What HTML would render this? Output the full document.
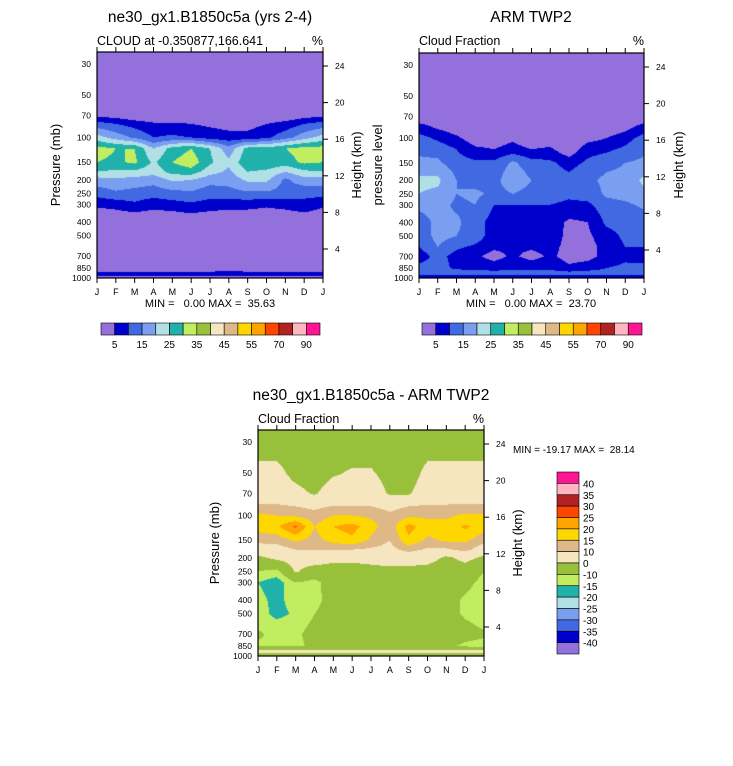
<!DOCTYPE html>
<html><head><meta charset="utf-8">
<style>
body{margin:0;background:#fff;width:733px;height:766px;position:relative;overflow:hidden;font-family:"Liberation Sans",sans-serif}
</style></head>
<body>
<svg id="svg" width="733" height="766" style="position:absolute;left:0;top:0"></svg>
<script>
const months=["J","F","M","A","M","J","J","A","S","O","N","D","J"];
const pressureTicks=[30,50,70,100,150,200,250,300,400,500,700,850,1000];
const heightTicks=[24,20,16,12,8,4];
const absLevels=[5,10,15,20,25,30,35,40,45,50,55,60,70,80,90];
const absLabels=["5","15","25","35","45","55","70","90"];
const diffLevels=[-40,-35,-30,-25,-20,-15,-10,0,10,15,20,25,30,35,40];
const palette=["#9370DB","#0000CD","#4169E1","#7B9FF0","#B0E0E6","#20B2AA","#C0EE60","#99C03A","#F5E6C0","#DEB887","#FFD700","#FFA500","#FF4500","#B22222","#FFB6C1","#FF1493"];
const levelsP=[30,50,70,80,100,120,150,175,200,250,300,400,500,600,700,850,925,1000];
const modelData=[
[0,0,0,0,0,0,0,0,0,0,0,0,0],
[0,0,0,0,0,0,0,0,0,0,0,0,0],
[4,3,1,0,0,0,0,0,0,0,1,3,4],
[12,10,8,6,6,5,4,3,3,5,7,10,12],
[22,18,14,10,11,10,8,7,7,9,13,18,22],
[32,30,30,20,27,30,25,17,27,27,30,32,32],
[30,29,31,24,30,33,26,21,29,29,28,31,30],
[25,24,24,22,27,28,22,19,25,24,20,24,25],
[18,19,18,17,21,20,17,17,21,21,14,18,18],
[12,14,13,12,13,14,12,13,14,14,13,11,12],
[6,7,9,7,8,9,8,7,7,6,7,9,6],
[0,0,0,0,0,1,0,0,0,0,0,0,0],
[0,0,0,0,0,0,0,0,0,0,0,0,0],
[0,0,0,0,0,0,0,0,0,0,0,0,0],
[0,0,0,0,0,0,0,0,0,0,0,0,0],
[0,0,0,0,0,0,0,0,0,0,0,0,0],
[7,7,7,7,7,7,7,9,7,7,7,7,7],
[3,3,3,3,3,3,3,3,3,3,3,3,3]];
const obsData=[
[0,0,0,0,0,0,0,0,0,0,0,0,0],
[0,0,0,0,0,0,0,0,0,0,0,0,0],
[0,0,0,0,0,0,0,0,0,0,0,0,0],
[6,3,1,0,0,0,0,0,0,0,0,2,6],
[12,9,6,2,2,4,1,1,0,3,5,8,12],
[14,13,10,6,5,7,5,6,1,8,9,11,14],
[16,16,12,11,11,16,12,11,8,11,13,15,16],
[19,19,14,12,13,17,14,12,10,13,15,16,19],
[21,21,15,13,14,17,15,12,11,14,16,17,21],
[20,19,15,16,14,15,14,12,11,12,16,17,19],
[16,17,14,15,10,10,10,10,9,9,13,14,16],
[13,16,16,12,8,7,7,8,4,5,11,12,12],
[11,17,15,13,7,7,6,9,3,4,8,11,11],
[10,15,11,9,6,6,6,7,3,3,7,10,10],
[7,12,8,6,3,6,3,6,3,3,7,9,7],
[12,12,9,9,8,9,9,9,6,8,10,11,12],
[13,13,13,12,12,12,12,12,12,12,12,13,13],
[5,5,5,5,5,5,5,5,5,5,5,5,5]];
const diffData=[
[-5,-5,-5,-5,-5,-5,-5,-5,-5,-5,-5,-5,-5],
[3,3,-3,-5,-1,1,1,-3,-5,3,3,3,3],
[6,6,3,-1,5,5,5,-1,-1,6,6,6,6],
[9,9,8,7,8,8,8,7,8,9,9,9,9],
[16,15,14,12,15,15,14,11,14,14,14,16,16],
[17,19,26,15,20,22,17,12,22,17,17,21,17],
[12,12,16,13,17,19,14,10,19,14,16,16,12],
[6,7,10,10,10,10,9,8,12,9,9,12,6],
[-2,2,4,6,3,3,3,5,5,5,-2,3,-2],
[-10,-12,1,-5,-5,-5,-3,-3,-3,-5,-8,-5,-10],
[-15,-18,-10,-12,-6,-5,-5,-5,-5,-5,-8,-8,-12],
[-13,-17,-12,-12,-7,-5,-5,-5,-5,-5,-7,-11,-13],
[-12,-17,-14,-10,-7,-5,-5,-5,-5,-5,-7,-11,-12],
[-11,-13,-12,-9,-6,-5,-5,-5,-5,-5,-6,-9,-11],
[-9,-12,-11,-8,-6,-5,-5,-5,-5,-5,-6,-8,-9],
[-11,-11,-11,-9,-9,-9,-9,-9,-9,-9,-9,-11,-12],
[3,3,3,3,3,3,3,3,3,3,3,3,3],
[-5,-5,-5,-5,-5,-5,-5,-5,-5,-5,-5,-5,-5]];

const NS="http://www.w3.org/2000/svg";
const svg=document.getElementById('svg');
function el(tag,attrs,txt){const e=document.createElementNS(NS,tag);for(const k in attrs)e.setAttribute(k,attrs[k]);if(txt!==undefined)e.textContent=txt;svg.appendChild(e);return e;}
function colorFor(v,levels){let i=0;while(i<levels.length&&v>=levels[i])i++;return palette[i];}
function sample(data,m,lp){
  const lps=levelsP.map(p=>Math.log10(p));
  let r=0;while(r<lps.length-2&&lp>lps[r+1])r++;
  let t=(lp-lps[r])/(lps[r+1]-lps[r]);t=Math.max(0,Math.min(1,t));
  let c=Math.min(11,Math.floor(m));let u=m-c;
  const a=data[r][c]*(1-u)+data[r][c+1]*u, b=data[r+1][c]*(1-u)+data[r+1][c+1]*u;
  return a*(1-t)+b*t;
}
function drawPanel(o){
  const {x0,y0,w,h,data,levels,name}=o;
  const yScale=p=>y0+12+(Math.log10(p)-Math.log10(30))*(h-12)/(3-Math.log10(30));
  const inv=y=>Math.log10(30)+(y-y0-12)*(3-Math.log10(30))/(h-12);
  const xScale=m=>x0+m*w/12;
  const fo=document.createElementNS(NS,'foreignObject');
  fo.setAttribute('x',x0);fo.setAttribute('y',y0);fo.setAttribute('width',w);fo.setAttribute('height',h);
  const cv=document.createElement('canvas');cv.width=w;cv.height=h;
  
  
  const ctx=cv.getContext('2d');
  for(let py=0;py<h;py++){const lp=Math.min(3,inv(y0+py+0.5));
    let prev=null,sx=0;
    for(let px=0;px<=w;px++){
      let col=null;
      if(px<w){const m=(px+0.5)/w*12;col=colorFor(sample(data,m,lp),levels);}
      if(col!==prev){if(prev){ctx.fillStyle=prev;ctx.fillRect(sx,py,px-sx,1);}prev=col;sx=px;}
    }}
  fo.appendChild(cv);svg.appendChild(fo);
  const fr=el('rect',{x:x0,y:y0,width:w,height:h,fill:'none',stroke:'#000','stroke-width':1.2});
  
  months.forEach((mn,i)=>{const x=xScale(i);
    el('line',{x1:x,x2:x,y1:y0,y2:y0-5,stroke:'#000'});
    el('line',{x1:x,x2:x,y1:y0+h,y2:y0+h+5,stroke:'#000'});
    const t=el('text',{x:x,y:y0+h+17,'font-size':9,'text-anchor':'middle'},mn);
    });
  pressureTicks.forEach(p=>{const t=el('text',{x:x0-6,y:yScale(p)+3,'font-size':8.5,'text-anchor':'end'},p);
    });
  heightTicks.forEach(k=>{const y=y0+14+(24-k)*9.15;
    el('line',{x1:x0+w,x2:x0+w+5,y1:y,y2:y,stroke:'#000'});
    const t=el('text',{x:x0+w+12,y:y+3,'font-size':8.5},k);
    });
}
function txt(x,y,s,size,name,anchor,rot){const a={x:x,y:y,'font-size':size,'text-anchor':anchor||'start'};if(rot)a.transform=`rotate(-90 ${x} ${y})`;const t=el('text',a,s);return t;}
function hbar(x0,y0,w,h,name){const bw=w/16;palette.forEach((c,i)=>{const r=el('rect',{x:x0+i*bw,y:y0,width:bw,height:h,fill:c,stroke:'#000','stroke-width':0.6});});
  absLabels.forEach((l,i)=>{txt(x0+bw*(1+2*i),y0+h+13,l,10,name+'-label','middle');});}

drawPanel({x0:97,y0:52,w:226,h:226,data:modelData,levels:absLevels,name:'model-panel'});
drawPanel({x0:419,y0:53,w:225,h:225,data:obsData,levels:absLevels,name:'obs-panel'});
drawPanel({x0:258,y0:430,w:226,h:226,data:diffData,levels:diffLevels,name:'diff-panel'});

txt(210,22,"ne30_gx1.B1850c5a (yrs 2-4)",15.5,'model-title','middle');
txt(97,45,"CLOUD at -0.350877,166.641",12.5,'model-subtitle');
txt(323,45,"%",12.5,'model-units','end');
txt(210,307,"MIN =   0.00 MAX =  35.63",11,'model-minmax','middle');
txt(60,165,"Pressure (mb)",13,'model-y-title','middle',true);
txt(361,165,"Height (km)",13,'model-right-title','middle',true);
hbar(101,323,219,12,'model-colorbar');

txt(531,22,"ARM TWP2",15.5,'obs-title','middle');
txt(419,45,"Cloud Fraction",12.5,'obs-subtitle');
txt(644,45,"%",12.5,'obs-units','end');
txt(531,307,"MIN =   0.00 MAX =  23.70",11,'obs-minmax','middle');
txt(382,165,"pressure level",13,'obs-y-title','middle',true);
txt(683,165,"Height (km)",13,'obs-right-title','middle',true);
hbar(422,323,220,12,'obs-colorbar');

txt(371,400,"ne30_gx1.B1850c5a - ARM TWP2",15.5,'diff-title','middle');
txt(258,423,"Cloud Fraction",12.5,'diff-subtitle');
txt(484,423,"%",12.5,'diff-units','end');
txt(513,453,"MIN = -19.17 MAX =  28.14",10,'diff-minmax');
txt(219,543,"Pressure (mb)",13,'diff-y-title','middle',true);
txt(522,543,"Height (km)",13,'diff-right-title','middle',true);
const bh=182/16;
palette.slice().reverse().forEach((c,i)=>{const r=el('rect',{x:557,y:472+i*bh,width:22,height:bh,fill:c,stroke:'#000','stroke-width':0.6});
  });
diffLevels.slice().reverse().forEach((l,i)=>{txt(583,472+(i+1)*bh+4,l,10,'diff-colorbar-label');});
document.querySelectorAll('text').forEach(t=>{t.style.fontFamily='"Liberation Sans",sans-serif';t.style.whiteSpace='pre';});
</script>
</body></html>
